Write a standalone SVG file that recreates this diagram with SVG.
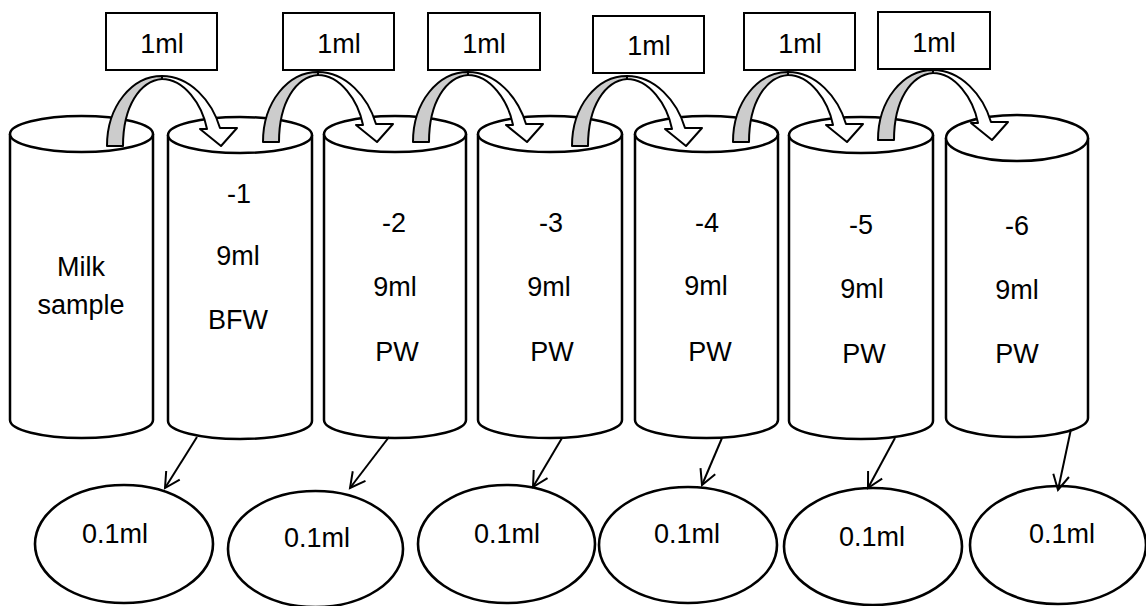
<svg xmlns="http://www.w3.org/2000/svg" xmlns:xlink="http://www.w3.org/1999/xlink" width="1146" height="606" viewBox="0 0 1146 606">
  <style>
    .tube { fill: #ffffff; stroke: #000000; stroke-width: 2.5; }
    .box { fill: #ffffff; stroke: #000000; stroke-width: 2; }
    .plate { fill: #ffffff; stroke: #000000; stroke-width: 2.6; }
    .lbl { font-family: "Liberation Sans", Arial, sans-serif; font-size: 27px; fill: #000000; text-anchor: middle; }
    .back { fill: #cccccc; stroke: #000000; stroke-width: 2; stroke-linejoin: round; }
    .front { fill: #ffffff; stroke: #000000; stroke-width: 2; stroke-linejoin: round; }
    .drop { fill: none; stroke: #000000; stroke-width: 2; }
  </style>
  <defs>
    <!-- curved transfer arrow, origin at the left edge of its tail -->
    <g id="pour">
      <path class="back" d="M0,0 C0,-40 25,-70 55,-70 L55,-67 C33,-65 16,-40 16,0 Z"/>
      <path class="front" d="M55,-70 C83,-70 105,-45 113,-18 L130,-18 L114,0 L93,-17 L100,-17 C95,-42 77,-67 55,-67 Z"/>
    </g>
    <marker id="vee" markerUnits="userSpaceOnUse" markerWidth="24" markerHeight="24" viewBox="-20 -12 24 24" refX="0" refY="0" orient="auto">
      <path d="M-15,-8 L0,0 L-15,8" fill="none" stroke="#000000" stroke-width="2"/>
    </marker>
  </defs>

  <!-- tubes -->
  <g id="tube-milk">
    <path class="tube" d="M10,134 L10,420 A71.5,18 0 0 0 153,420 L153,134"/>
    <ellipse class="tube" cx="81.5" cy="134" rx="71.5" ry="18"/>
    <text class="lbl" x="81" y="276">Milk</text>
    <text class="lbl" x="81" y="314">sample</text>
  </g>
  <g id="tube-1">
    <path class="tube" d="M168,135 L168,421 A72,18 0 0 0 312,421 L312,135"/>
    <ellipse class="tube" cx="240" cy="135" rx="72" ry="18"/>
    <text class="lbl" x="239" y="203">-1</text>
    <text class="lbl" x="238" y="265">9ml</text>
    <text class="lbl" x="238" y="329">BFW</text>
  </g>
  <g id="tube-2">
    <path class="tube" d="M324,134 L324,420 A71,18 0 0 0 466,420 L466,134"/>
    <ellipse class="tube" cx="395" cy="134" rx="71" ry="18"/>
    <text class="lbl" x="394" y="232">-2</text>
    <text class="lbl" x="395" y="296">9ml</text>
    <text class="lbl" x="397" y="361">PW</text>
  </g>
  <g id="tube-3">
    <path class="tube" d="M478,134 L478,420 A72,18 0 0 0 622,420 L622,134"/>
    <ellipse class="tube" cx="550" cy="134" rx="72" ry="18"/>
    <text class="lbl" x="551" y="232">-3</text>
    <text class="lbl" x="549" y="296">9ml</text>
    <text class="lbl" x="552" y="361">PW</text>
  </g>
  <g id="tube-4">
    <path class="tube" d="M635,134 L635,420 A71.5,18 0 0 0 778,420 L778,134"/>
    <ellipse class="tube" cx="706.5" cy="134" rx="71.5" ry="18"/>
    <text class="lbl" x="707" y="232">-4</text>
    <text class="lbl" x="706" y="295">9ml</text>
    <text class="lbl" x="710" y="361">PW</text>
  </g>
  <g id="tube-5">
    <path class="tube" d="M789,135 L789,421 A72,18 0 0 0 933,421 L933,135"/>
    <ellipse class="tube" cx="861" cy="135" rx="72" ry="18"/>
    <text class="lbl" x="861" y="234">-5</text>
    <text class="lbl" x="862" y="298">9ml</text>
    <text class="lbl" x="864" y="363">PW</text>
  </g>
  <g id="tube-6">
    <path class="tube" d="M946,138 L946,418 A71,19 0 0 0 1088,418 L1088,138"/>
    <ellipse class="tube" cx="1017" cy="138" rx="71" ry="23"/>
    <text class="lbl" x="1017" y="235">-6</text>
    <text class="lbl" x="1017" y="299">9ml</text>
    <text class="lbl" x="1017" y="363">PW</text>
  </g>

  <!-- 1ml transfer boxes -->
  <g id="vol-1"><rect class="box" x="106" y="13" width="111" height="57"/><text class="lbl" x="162" y="53">1ml</text></g>
  <g id="vol-2"><rect class="box" x="283" y="13" width="111" height="57"/><text class="lbl" x="339" y="53">1ml</text></g>
  <g id="vol-3"><rect class="box" x="428" y="13" width="112" height="57"/><text class="lbl" x="484" y="53">1ml</text></g>
  <g id="vol-4"><rect class="box" x="593" y="16" width="111" height="57"/><text class="lbl" x="649" y="55">1ml</text></g>
  <g id="vol-5"><rect class="box" x="744" y="13" width="111" height="57"/><text class="lbl" x="800" y="53">1ml</text></g>
  <g id="vol-6"><rect class="box" x="878" y="12" width="112" height="57"/><text class="lbl" x="934" y="52">1ml</text></g>

  <!-- plates -->
  <g id="plate-1"><ellipse class="plate" cx="124" cy="544" rx="89" ry="59"/><text class="lbl" x="115" y="543">0.1ml</text></g>
  <g id="plate-2"><ellipse class="plate" cx="315.5" cy="549" rx="87.5" ry="58"/><text class="lbl" x="317" y="547">0.1ml</text></g>
  <g id="plate-3"><ellipse class="plate" cx="506.5" cy="544" rx="88.5" ry="59"/><text class="lbl" x="507" y="543">0.1ml</text></g>
  <g id="plate-4"><ellipse class="plate" cx="688" cy="545" rx="89" ry="58"/><text class="lbl" x="687" y="543">0.1ml</text></g>
  <g id="plate-5"><ellipse class="plate" cx="873" cy="546.5" rx="89" ry="58.5"/><text class="lbl" x="872" y="546">0.1ml</text></g>
  <g id="plate-6"><ellipse class="plate" cx="1058" cy="545" rx="88" ry="59"/><text class="lbl" x="1062" y="543">0.1ml</text></g>

  <!-- connectors -->
  <g id="connectors">
    <use xlink:href="#pour" href="#pour" transform="translate(107,146)"/>
    <use xlink:href="#pour" href="#pour" transform="translate(263,142)"/>
    <use xlink:href="#pour" href="#pour" transform="translate(413,142)"/>
    <use xlink:href="#pour" href="#pour" transform="translate(572,146)"/>
    <use xlink:href="#pour" href="#pour" transform="translate(733,142)"/>
    <use xlink:href="#pour" href="#pour" transform="translate(878,140)"/>
    <line class="drop" x1="197" y1="437" x2="165" y2="488" marker-end="url(#vee)"/>
    <line class="drop" x1="389" y1="437" x2="350" y2="488" marker-end="url(#vee)"/>
    <line class="drop" x1="562" y1="438" x2="533" y2="487" marker-end="url(#vee)"/>
    <line class="drop" x1="722" y1="438" x2="702" y2="485" marker-end="url(#vee)"/>
    <line class="drop" x1="895" y1="438" x2="868" y2="488" marker-end="url(#vee)"/>
    <line class="drop" x1="1071" y1="429" x2="1058" y2="490" marker-end="url(#vee)"/>
  </g>
</svg>
